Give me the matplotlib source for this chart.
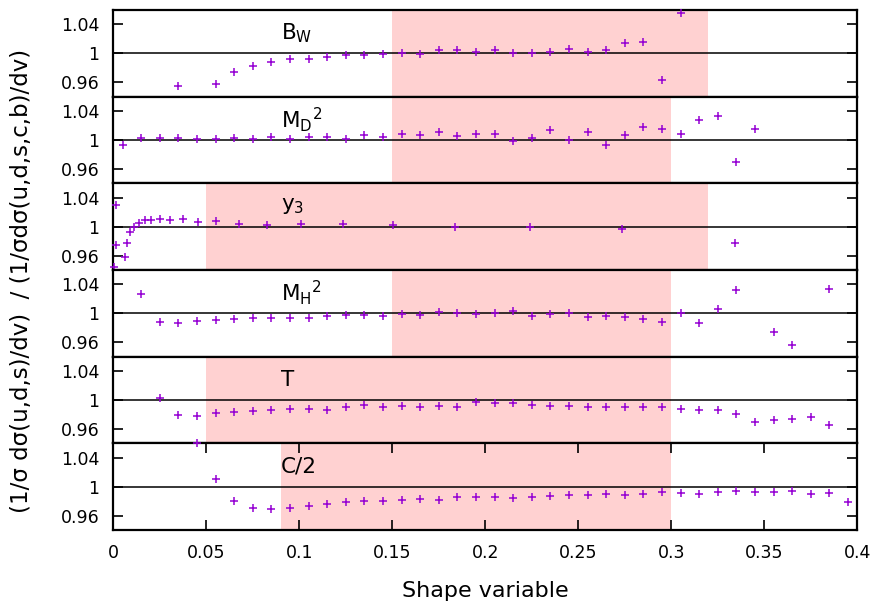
import numpy as np
import matplotlib
matplotlib.use("Agg")
import matplotlib.pyplot as plt

# ---- data ----

# B_W (starts at 0.035, 0.045 is off-scale)
bw_x = [0.035, 0.055, 0.065, 0.075, 0.085, 0.095, 0.105, 0.115, 0.125, 0.135,
        0.145, 0.155, 0.165, 0.175, 0.185, 0.195, 0.205, 0.215, 0.225, 0.235,
        0.245, 0.255, 0.265, 0.275, 0.285, 0.295, 0.305]
bw_y = [0.955, 0.958, 0.974, 0.982, 0.988, 0.992, 0.992, 0.995, 0.997, 0.997,
        0.999, 1.000, 0.999, 1.004, 1.004, 1.002, 1.005, 1.001, 1.000, 1.002,
        1.006, 1.002, 1.004, 1.0136, 1.0155, 0.963, 1.0565]

md_x = [0.005, 0.015, 0.025, 0.035, 0.045, 0.055, 0.065, 0.075, 0.085, 0.095,
        0.105, 0.115, 0.125, 0.135, 0.145, 0.155, 0.165, 0.175, 0.185, 0.195,
        0.205, 0.215, 0.225, 0.235, 0.245, 0.255, 0.265, 0.275, 0.285, 0.295,
        0.305, 0.315, 0.325, 0.335, 0.345]
md_y = [0.993, 1.0024, 1.0024, 1.0024, 1.0014, 1.001, 1.0024, 1.001, 1.0047, 1.0014,
        1.0047, 1.0038, 1.0014, 1.0066, 1.0047, 1.0089, 1.0066, 1.0108, 1.0061, 1.0089,
        1.008, 0.999, 1.0033, 1.014, 1.0005, 1.0104, 0.9934, 1.0066, 1.0179, 1.0155,
        1.008, 1.0273, 1.0334, 0.969, 1.0155]

y3_x = [0.0002, 0.0012, 0.0012, 0.0061, 0.0075, 0.0091, 0.0113, 0.0136, 0.0168, 0.0204,
        0.0251, 0.0304, 0.0373, 0.0455, 0.0552, 0.0677, 0.0826, 0.1007, 0.1233, 0.1503,
        0.1835, 0.2242, 0.2737, 0.3342]
y3_y = [0.9435, 1.0306, 0.975, 0.9586, 0.9779, 0.992, 0.999, 1.0057, 1.009, 1.0094,
        1.0104, 1.0094, 1.0108, 1.0071, 1.0075, 1.0042, 1.0028, 1.0033, 1.0038, 1.0024,
        0.9995, 0.9995, 0.9972, 0.9774]

mh_x = [0.015, 0.025, 0.035, 0.045, 0.055, 0.065, 0.075, 0.085, 0.095, 0.105,
        0.115, 0.125, 0.135, 0.145, 0.155, 0.165, 0.175, 0.185, 0.195, 0.205,
        0.215, 0.225, 0.235, 0.245, 0.255, 0.265, 0.275, 0.285, 0.295, 0.305,
        0.315, 0.325, 0.335, 0.355, 0.365, 0.385]
mh_y = [1.0268, 0.9882, 0.9859, 0.9892, 0.9901, 0.992, 0.9929, 0.9939, 0.9939, 0.9929,
        0.9967, 0.9976, 0.9976, 0.9967, 0.9986, 0.9972, 1.0019, 1.0, 0.999, 1.0,
        1.0038, 0.9962, 0.999, 1.0, 0.9948, 0.9967, 0.9943, 0.9925, 0.9882, 1.0009,
        0.9868, 1.0066, 1.0316, 0.9746, 0.9562, 1.0339]

t_x = [0.025, 0.035, 0.045, 0.055, 0.065, 0.075, 0.085, 0.095, 0.105, 0.115,
       0.125, 0.135, 0.145, 0.155, 0.165, 0.175, 0.185, 0.195, 0.205, 0.215,
       0.225, 0.235, 0.245, 0.255, 0.265, 0.275, 0.285, 0.295, 0.305, 0.315,
       0.325, 0.335, 0.345, 0.355, 0.365, 0.375, 0.385]
t_y = [1.0024, 0.9793, 0.9783, 0.9821, 0.9835, 0.9849, 0.9868, 0.9873, 0.9873, 0.9863,
       0.9901, 0.9925, 0.9901, 0.9915, 0.9901, 0.992, 0.9906, 0.9976, 0.9962, 0.9953,
       0.9925, 0.992, 0.992, 0.9901, 0.9901, 0.9906, 0.9896, 0.9901, 0.9873, 0.9859,
       0.9863, 0.9812, 0.9699, 0.9722, 0.9732, 0.9769, 0.966]

c_x = [0.045, 0.055, 0.065, 0.075, 0.085, 0.095, 0.105, 0.115, 0.125, 0.135,
       0.145, 0.155, 0.165, 0.175, 0.185, 0.195, 0.205, 0.215, 0.225, 0.235,
       0.245, 0.255, 0.265, 0.275, 0.285, 0.295, 0.305, 0.315, 0.325, 0.335,
       0.345, 0.355, 0.365, 0.375, 0.385, 0.395]
c_y = [1.0598, 1.0108, 0.9802, 0.9703, 0.9694, 0.9708, 0.9732, 0.9765, 0.9783, 0.9797,
       0.9802, 0.9821, 0.983, 0.9812, 0.9859, 0.9854, 0.9854, 0.9849, 0.9859, 0.9868,
       0.9878, 0.9878, 0.9892, 0.9887, 0.9901, 0.992, 0.9915, 0.9901, 0.9925, 0.9943,
       0.9929, 0.992, 0.9939, 0.9901, 0.9906, 0.9793]

labels = [r"B$_\mathregular{W}$", r"M$_\mathregular{D}$$^\mathregular{2}$",
          r"y$_\mathregular{3}$", r"M$_\mathregular{H}$$^\mathregular{2}$", "T", "C/2"]
fit_ranges = [(0.15, 0.32), (0.15, 0.30), (0.05, 0.32), (0.15, 0.30), (0.05, 0.30), (0.09, 0.30)]
series = [(bw_x, bw_y), (md_x, md_y), (y3_x, y3_y), (mh_x, mh_y), (t_x, t_y), (c_x, c_y)]

plt.rcParams['font.family'] = 'DejaVu Sans'
plt.rcParams['font.size'] = 12

fig, axes = plt.subplots(6, 1, figsize=(8.79, 6.05), dpi=100, sharex=True)
fig.subplots_adjust(left=0.1289, right=0.9753, top=0.9835, bottom=0.124, hspace=0)

for i, ax in enumerate(axes):
    lo, hi = fit_ranges[i]
    ax.axvspan(lo, hi, color='#ffd1d1', lw=0, zorder=0)
    ax.axhline(1.0, color='black', lw=1.1, zorder=1)
    xs, ys = series[i]
    ax.plot(xs, ys, '+', color='#9400d3', ms=5.5, mew=1.1, zorder=3, clip_on=False)
    ax.set_xlim(0, 0.4)
    ax.set_ylim(0.94, 1.06)
    ax.set_yticks([0.96, 1.0, 1.04])
    ax.set_yticklabels(['0.96', '1', '1.04'])
    ax.tick_params(axis='y', direction='in', right=True, length=7, width=1.2,
                   pad=10, labelsize=12.5)
    ax.text(0.09, 1.028, labels[i], fontsize=15.5, ha='left', va='center', zorder=4)
    for s in ax.spines.values():
        s.set_linewidth(1.6)
    if i < 5:
        ax.tick_params(axis='x', bottom=False, top=False)

bottom = axes[-1]
bottom.set_xticks([0, 0.05, 0.1, 0.15, 0.2, 0.25, 0.3, 0.35, 0.4])
bottom.set_xticklabels(['0', '0.05', '0.1', '0.15', '0.2', '0.25', '0.3', '0.35', '0.4'])
bottom.tick_params(axis='x', direction='in', top=True, length=7, width=1.2, pad=10,
                   labelsize=12.5)
bottom.set_xlabel('Shape variable', fontsize=16, labelpad=14)

fig.text(0.025, 0.535, "(1/σ dσ(u,d,s)/dv)  / (1/σdσ(u,d,s,c,b)/dv)",
         rotation=90, ha='center', va='center', fontsize=16.5)

fig.savefig('out.png', dpi=100)
